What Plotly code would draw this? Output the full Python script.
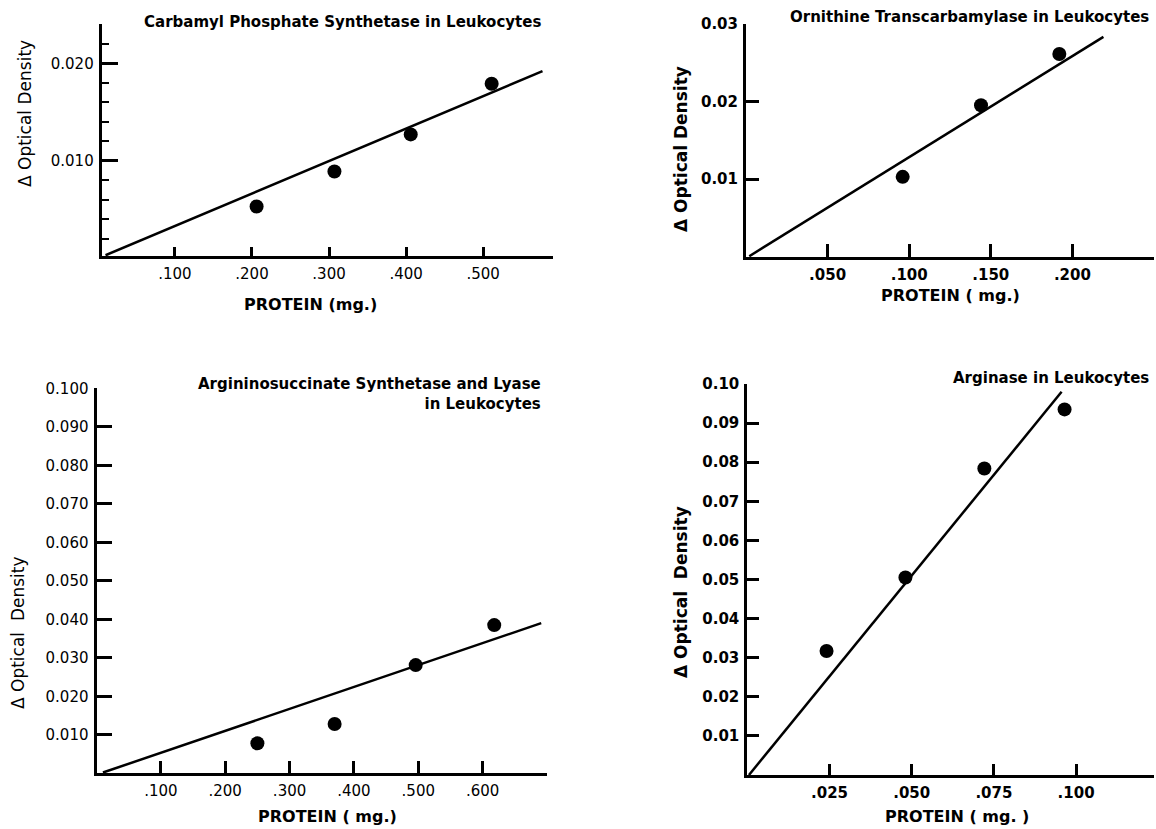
import plotly.graph_objects as go

W, H = 1156, 829

# ---------------- data ----------------
# Carbamyl Phosphate Synthetase
cps_protein = [0.206, 0.307, 0.406, 0.511]
cps_od = [0.0053, 0.0089, 0.0127, 0.0179]
cps_fit_protein = [0.010, 0.577]
cps_fit_od = [0.0003, 0.0192]
cps_xticks = [0.1, 0.2, 0.3, 0.4, 0.5, 0.59]
cps_xlabels = [".100", ".200", ".300", ".400", ".500", ""]
cps_yticks = [0.010, 0.020]
cps_ylabels = ["0.010", "0.020"]

# Ornithine Transcarbamylase
otc_protein = [0.096, 0.144, 0.192]
otc_od = [0.0103, 0.0195, 0.0261]
otc_fit_protein = [0.002, 0.219]
otc_fit_od = [0.0001, 0.0283]
otc_xticks = [0.05, 0.10, 0.15, 0.20, 0.25]
otc_xlabels = [".050", ".100", ".150", ".200", ""]
otc_yticks = [0.01, 0.02, 0.03]
otc_ylabels = ["0.01", "0.02", "0.03"]

# Argininosuccinate Synthetase and Lyase
as_protein = [0.250, 0.370, 0.496, 0.618]
as_od = [0.0078, 0.0128, 0.0281, 0.0385]
as_fit_protein = [0.010, 0.691]
as_fit_od = [0.0002, 0.0390]
as_xticks = [0.1, 0.2, 0.3, 0.4, 0.5, 0.6, 0.7]
as_xlabels = [".100", ".200", ".300", ".400", ".500", ".600", ""]
as_yticks = [0.01, 0.02, 0.03, 0.04, 0.05, 0.06, 0.07, 0.08, 0.09, 0.10]
as_ylabels = ["0.010", "0.020", "0.030", "0.040", "0.050",
              "0.060", "0.070", "0.080", "0.090", "0.100"]

# Arginase
arg_protein = [0.0241, 0.0481, 0.0721, 0.0965]
arg_od = [0.0317, 0.0505, 0.0784, 0.0935]
arg_fit_protein = [0.0005, 0.0956]
arg_fit_od = [0.0, 0.0980]
arg_xticks = [0.025, 0.050, 0.075, 0.100, 0.1237]
arg_xlabels = [".025", ".050", ".075", ".100", ""]
arg_yticks = [0.01, 0.02, 0.03, 0.04, 0.05, 0.06, 0.07, 0.08, 0.09, 0.10]
arg_ylabels = ["0.01", "0.02", "0.03", "0.04", "0.05",
               "0.06", "0.07", "0.08", "0.09", "0.10"]

titles = [
    "Carbamyl Phosphate Synthetase in Leukocytes",
    "Ornithine Transcarbamylase in Leukocytes",
    "Argininosuccinate Synthetase and Lyase<br>in Leukocytes",
    "Arginase in Leukocytes",
]
x_titles = ["PROTEIN (mg.)", "PROTEIN ( mg.)", "PROTEIN ( mg.)", "PROTEIN ( mg. )"]
y_titles = ["Δ Optical Density", "Δ Optical Density",
            "Δ Optical  Density", "Δ Optical  Density"]

FONT = "DejaVu Sans"


def px_x(p):
    return p / W


def px_y(p):
    return 1 - p / H


panels = [
    dict(x=cps_protein, y=cps_od, fx=cps_fit_protein, fy=cps_fit_od,
         xt=cps_xticks, xl=cps_xlabels, yt=cps_yticks, yl=cps_ylabels,
         xd=(101.7, 553.3), yd=(24.2, 256.2), xr=[0.005, 0.591], yr=[0.0002, 0.02401],
         minor=0.002, bold=False, xtlen=9, ytlen=16),
    dict(x=otc_protein, y=otc_od, fx=otc_fit_protein, fy=otc_fit_od,
         xt=otc_xticks, xl=otc_xlabels, yt=otc_yticks, yl=otc_ylabels,
         xd=(746, 1154), yd=(23.6, 257), xr=[0, 0.25], yr=[0, 0.03],
         minor=None, bold=True, xtlen=13, ytlen=13),
    dict(x=as_protein, y=as_od, fx=as_fit_protein, fy=as_fit_od,
         xt=as_xticks, xl=as_xlabels, yt=as_yticks, yl=as_ylabels,
         xd=(96.5, 547), yd=(388.3, 773.3), xr=[0, 0.70], yr=[0, 0.1],
         minor=None, bold=False, xtlen=12, ytlen=15),
    dict(x=arg_protein, y=arg_od, fx=arg_fit_protein, fy=arg_fit_od,
         xt=arg_xticks, xl=arg_xlabels, yt=arg_yticks, yl=arg_ylabels,
         xd=(747.3, 1154), yd=(384, 775), xr=[0, 0.1237], yr=[0, 0.1],
         minor=None, bold=True, xtlen=11, ytlen=12),
]

fig = go.Figure()
layout = {}
for i, p in enumerate(panels, start=1):
    xa = "x" if i == 1 else f"x{i}"
    ya = "y" if i == 1 else f"y{i}"
    fig.add_trace(go.Scatter(x=p["fx"], y=p["fy"], mode="lines",
                             line=dict(color="black", width=2.5),
                             xaxis=xa, yaxis=ya, showlegend=False,
                             cliponaxis=False))
    fig.add_trace(go.Scatter(x=p["x"], y=p["y"], mode="markers",
                             marker=dict(color="black", size=14),
                             xaxis=xa, yaxis=ya, showlegend=False,
                             cliponaxis=False))
    tick_font = dict(family=FONT, size=15, color="black",
                     weight="bold" if p["bold"] else "normal")
    xkey = "xaxis" if i == 1 else f"xaxis{i}"
    ykey = "yaxis" if i == 1 else f"yaxis{i}"
    layout[xkey] = dict(
        domain=[px_x(p["xd"][0]), px_x(p["xd"][1])],
        range=p["xr"], anchor=ya, showgrid=False, zeroline=False,
        showline=True, linecolor="black", linewidth=3,
        ticks="inside", ticklen=p["xtlen"], tickwidth=3, tickcolor="black",
        tickmode="array", tickvals=p["xt"], ticktext=p["xl"],
        tickfont=tick_font, ticklabelstandoff=2, automargin=False,
        fixedrange=True,
    )
    yax = dict(
        domain=[px_y(p["yd"][1]), px_y(p["yd"][0])],
        range=p["yr"], anchor=xa, showgrid=False, zeroline=False,
        showline=True, linecolor="black", linewidth=3,
        ticks="inside", ticklen=p["ytlen"], tickwidth=3, tickcolor="black",
        tickmode="array", tickvals=p["yt"], ticktext=p["yl"],
        tickfont=tick_font, ticklabelstandoff=2, automargin=False,
        fixedrange=True,
    )
    if p["minor"]:
        yax["minor"] = dict(dtick=p["minor"], tick0=0, ticks="inside",
                            ticklen=7, tickwidth=2, tickcolor="black",
                            showgrid=False)
    layout[ykey] = yax

annotations = []
# panel titles (right aligned)
title_pos = [(543, 22), (1151, 17), (543, 394), (1151, 378)]
for t, (tx, ty) in zip(titles, title_pos):
    annotations.append(dict(
        text=t, x=px_x(tx), y=px_y(ty), xref="paper", yref="paper",
        xanchor="right", yanchor="middle", align="right", showarrow=False,
        font=dict(family=FONT, size=15, color="black", weight="bold")))

# x axis titles
xt_pos = [(310, 305), (950, 295), (327, 816), (957, 816)]
for t, (tx, ty) in zip(x_titles, xt_pos):
    annotations.append(dict(
        text=t, x=px_x(tx), y=px_y(ty), xref="paper", yref="paper",
        xanchor="center", yanchor="middle", showarrow=False,
        font=dict(family=FONT, size=16, color="black", weight="bold")))

# y axis titles
yt_pos = [(25, 114, False), (681, 149, True), (18, 633, False), (681, 592, True)]
for t, (tx, ty, b) in zip(y_titles, yt_pos):
    annotations.append(dict(
        text=t, x=px_x(tx), y=px_y(ty), xref="paper", yref="paper",
        xanchor="center", yanchor="middle", textangle=-90, showarrow=False,
        font=dict(family=FONT, size=17, color="black",
                  weight="bold" if b else "normal")))

fig.update_layout(
    width=W, height=H, margin=dict(l=0, r=0, t=0, b=0),
    paper_bgcolor="white", plot_bgcolor="white",
    annotations=annotations, template="none",
    **layout,
)

fig.write_html("out.html",
               config={"displayModeBar": False, "staticPlot": True},
               post_script="document.body.style.margin='0';"
                           "document.body.style.padding='0';")
